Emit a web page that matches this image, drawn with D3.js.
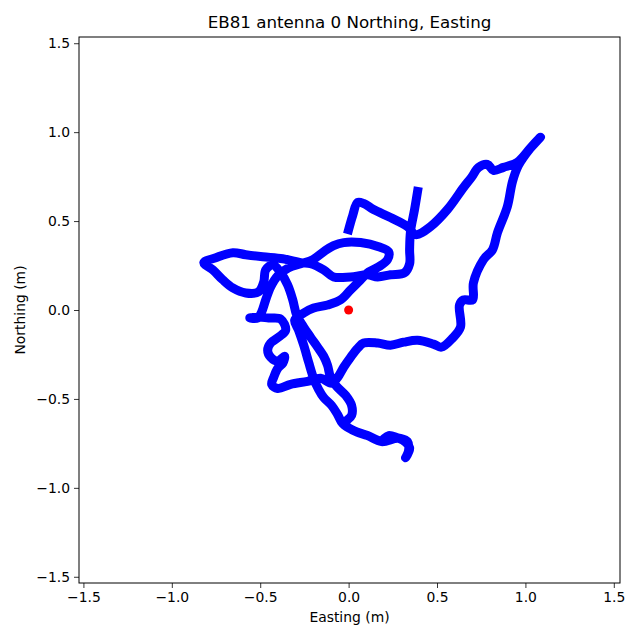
<!DOCTYPE html>
<html>
<head>
<meta charset="utf-8">
<script src="https://cdn.jsdelivr.net/npm/d3@7"></script>
<style>
  body { margin: 0; background: #fff; }
  text { font-family: "DejaVu Sans", sans-serif; }
</style>
</head>
<body>
<div class="chart"></div>
<script>
// antenna track, easting / northing in metres
const easting = [
  0.390, 0.373, 0.350, 0.345, 0.345, 0.316, 0.237, 0.164, 0.107, 0.011, -0.085, -0.141, -0.215, -0.271,
  -0.373, -0.486, -0.582, -0.655, -0.751, -0.819, -0.768, -0.712, -0.655, -0.582, -0.509, -0.480, -0.469, -0.429,
  -0.384, -0.345, -0.316, -0.294,
  -0.254, -0.215, -0.175, -0.141, -0.119, -0.102, -0.068, -0.017, 0.017, 0.017, -0.023,
  0.028, 0.107, 0.181, 0.226, 0.277, 0.333, 0.339, 0.322, 0.345, 0.288, 0.186, 0.107, 0.028, -0.034,
  -0.062, -0.096, -0.141, -0.170, -0.198, -0.226, -0.254, -0.283, -0.305,
  -0.254, -0.198, -0.119, -0.045, 0.011, 0.068, 0.107, 0.170, 0.220, 0.226, 0.170, 0.068, -0.028, -0.085, -0.141, -0.203, -0.271,
  -0.339, -0.401, -0.441, -0.469, -0.492, -0.514, -0.559, -0.509, -0.452, -0.384,
  -0.356, -0.396, -0.441, -0.458, -0.441, -0.401, -0.362, -0.372, -0.401, -0.424, -0.435, -0.401, -0.328, -0.232, -0.158, -0.096,
  -0.062, -0.028, 0.011, 0.051, 0.085, 0.164, 0.237, 0.311, 0.390, 0.480, 0.525, 0.588, 0.633, 0.627, 0.650, 0.701, 0.706,
  0.763, 0.814, 0.842, 0.898, 0.927, 0.961, 1.028, 1.085,
  1.028, 0.955, 0.876, 0.819, 0.785, 0.735, 0.695, 0.650, 0.559, 0.463, 0.379, 0.333, 0.237, 0.141, 0.085, 0.051, 0.023, 0.000
]
const northing = [
  0.667, 0.565, 0.441, 0.339, 0.260, 0.209, 0.198, 0.186, 0.198, 0.186, 0.186, 0.226, 0.260, 0.266,
  0.288, 0.299, 0.311, 0.322, 0.294, 0.266, 0.226, 0.170, 0.124, 0.096, 0.102, 0.158, 0.226, 0.254,
  0.209, 0.141, 0.057, -0.028,
  -0.096, -0.153, -0.209, -0.260, -0.311, -0.379, -0.429, -0.480, -0.537, -0.593, -0.638,
  -0.678, -0.706, -0.735, -0.706, -0.718, -0.740, -0.791, -0.831, -0.774, -0.723, -0.740, -0.706, -0.678, -0.638,
  -0.588, -0.537, -0.492, -0.446, -0.384, -0.294, -0.198, -0.113, -0.057,
  -0.017, 0.011, 0.028, 0.057, 0.113, 0.170, 0.209, 0.243, 0.283, 0.328, 0.356, 0.379, 0.379, 0.362, 0.328, 0.283, 0.260,
  0.237, 0.192, 0.130, 0.057, -0.011, -0.045, -0.045, -0.040, -0.045, -0.051,
  -0.113, -0.153, -0.186, -0.226, -0.266, -0.288, -0.260, -0.299, -0.328, -0.379, -0.418, -0.441, -0.418, -0.401, -0.384, -0.412,
  -0.379, -0.322, -0.266, -0.215, -0.186, -0.186, -0.198, -0.181, -0.170, -0.192, -0.209, -0.158, -0.096, 0.028, 0.057, 0.057, 0.153,
  0.283, 0.339, 0.435, 0.582, 0.723, 0.814, 0.910, 0.972,
  0.910, 0.831, 0.802, 0.785, 0.819, 0.802, 0.746, 0.689, 0.565, 0.469, 0.424, 0.469, 0.520, 0.565, 0.599, 0.605, 0.531, 0.452
]
const reference = [0, 0]
const ticks = [-1.5, -1.0, -0.5, 0.0, 0.5, 1.0, 1.5]

const track = easting.map((e, i) => [e, northing[i]])

const margin = {top: 37, right: 20, bottom: 57, left: 79}
const W = 640, H = 640
const width = W - margin.left - margin.right
const height = H - margin.top - margin.bottom

const svg = d3.select('.chart')
  .append('svg')
  .attr('width', W)
  .attr('height', H)

const x = d3.scaleLinear()
  .domain([-1.525, 1.535])
  .range([0, width])

const y = d3.scaleLinear()
  .domain([-1.535, 1.535])
  .range([height, 0])

const g = svg.append('g')
  .attr('transform', `translate(${margin.left},${margin.top})`)

const fmt = d => d3.format('.1f')(d).replace('-', '\u2212')

// axes
g.append('g')
  .attr('transform', `translate(0,${height})`)
  .call(d3.axisBottom(x).tickValues(ticks).tickFormat(fmt).tickSizeOuter(0).tickSize(5).tickPadding(4))

g.append('g')
  .call(d3.axisLeft(y).tickValues(ticks).tickFormat(fmt).tickSizeOuter(0).tickSize(5).tickPadding(4))

svg.selectAll('.domain').remove()
svg.selectAll('.tick line').attr('stroke', '#000').attr('stroke-width', 0.8)
svg.selectAll('.tick text')
  .style('font-size', '13.9px')
  .style('font-family', '"DejaVu Sans", sans-serif')
  .attr('fill', '#000')

// track
const line = d3.line()
  .curve(d3.curveCatmullRom.alpha(0.5))
  .x(d => x(d[0]))
  .y(d => y(d[1]))

g.append('path')
  .datum(track)
  .attr('d', line)
  .attr('fill', 'none')
  .attr('stroke', '#0000ff')
  .attr('stroke-width', 9)
  .attr('stroke-linejoin', 'round')
  .attr('stroke-linecap', 'square')

g.append('circle')
  .attr('cx', x(reference[0]))
  .attr('cy', y(reference[1]))
  .attr('r', 4.5)
  .attr('fill', '#ff0000')

// frame
g.append('rect')
  .attr('width', width)
  .attr('height', height)
  .attr('fill', 'none')
  .attr('stroke', '#000')
  .attr('stroke-width', 1)

// labels
svg.append('text')
  .attr('x', margin.left + width / 2)
  .attr('y', 28)
  .attr('text-anchor', 'middle')
  .style('font-size', '16.7px')
  .text('EB81 antenna 0 Northing, Easting')

svg.append('text')
  .attr('x', margin.left + width / 2)
  .attr('y', 622)
  .attr('text-anchor', 'middle')
  .style('font-size', '13.9px')
  .text('Easting (m)')

svg.append('text')
  .attr('transform', `translate(25,${margin.top + height / 2}) rotate(-90)`)
  .attr('text-anchor', 'middle')
  .style('font-size', '13.9px')
  .text('Northing (m)')
</script>
</body>
</html>
